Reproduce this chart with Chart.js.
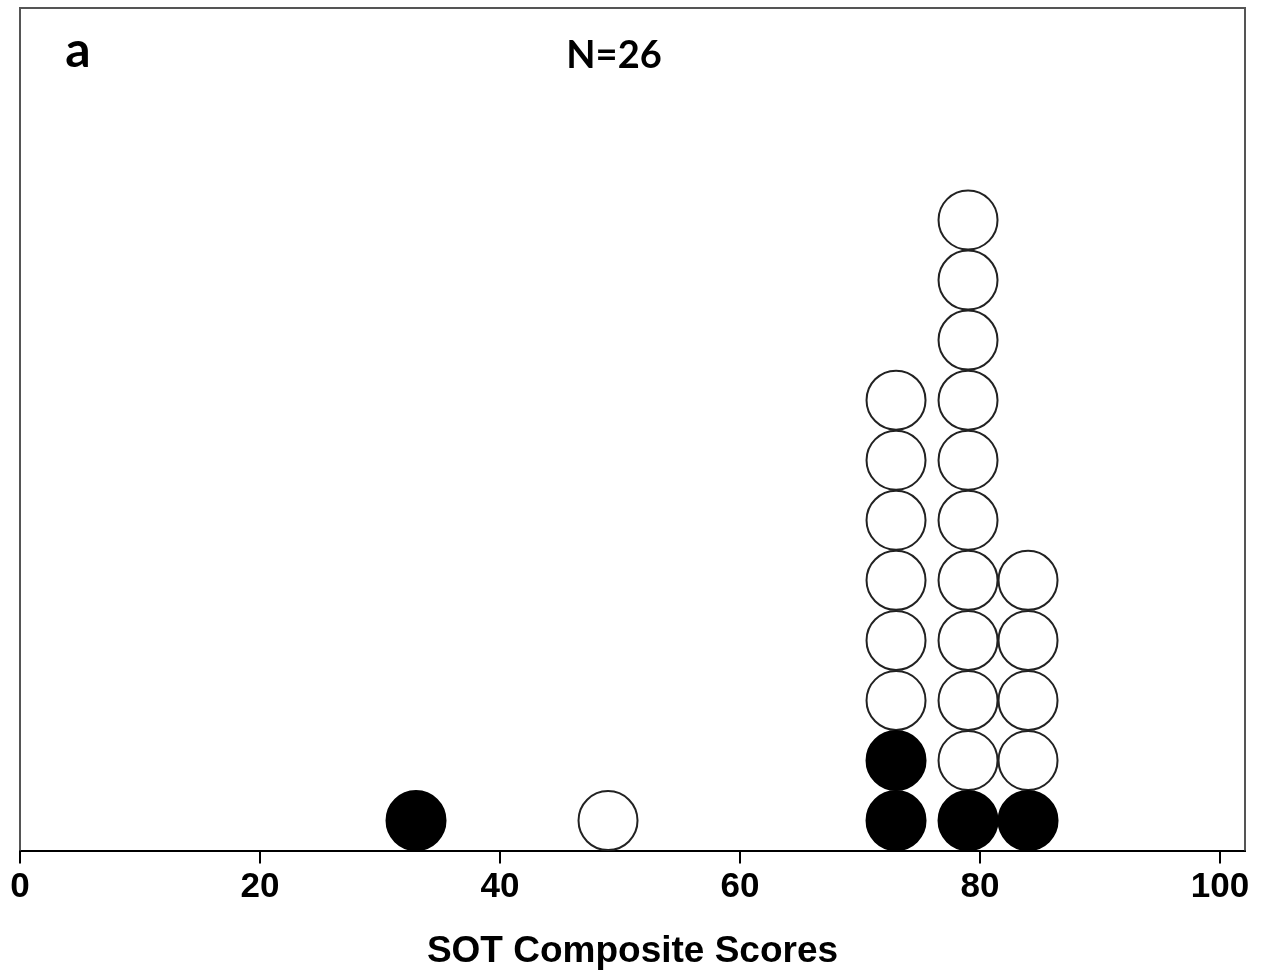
<!DOCTYPE html>
<html>
<head>
<meta charset="utf-8">
<script src="https://cdn.jsdelivr.net/npm/chart.js@4"></script>
<style>
  html, body { margin: 0; padding: 0; background: #fff; }
  #wrap { width: 1274px; height: 980px; }
</style>
</head>
<body>
<div id="wrap"><canvas id="canvas" width="1274" height="980"></canvas></div>
<script>
// SOT composite score of each subject, stacked as dots (level = position in stack)
const filledScores = [33, 73, 73, 79, 84];
const filledLevels = [1, 1, 2, 1, 1];
const openScores = [49, 73, 73, 73, 73, 73, 73, 79, 79, 79, 79, 79, 79, 79, 79, 79, 79, 84, 84, 84, 84];
const openLevels = [1, 3, 4, 5, 6, 7, 8, 2, 3, 4, 5, 6, 7, 8, 9, 10, 11, 2, 3, 4, 5];
const xTicks = [0, 20, 40, 60, 80, 100];
const panelLabel = "a";
const countLabel = "N=26";
const xTitle = "SOT Composite Scores";

function toPoints(xs, ys) {
  return xs.map((x, i) => ({ x: x, y: ys[i] }));
}

const frame = {
  id: "frame",
  afterDraw(chart) {
    const { ctx, chartArea: a, scales } = chart;
    ctx.save();
    ctx.strokeStyle = "#555";
    ctx.lineWidth = 2;
    ctx.beginPath();
    ctx.moveTo(a.left, a.bottom);
    ctx.lineTo(a.left, a.top);
    ctx.lineTo(a.right, a.top);
    ctx.lineTo(a.right, a.bottom);
    ctx.stroke();
    ctx.fillStyle = "#000";
    ctx.textAlign = "center";
    ctx.textBaseline = "alphabetic";
    ctx.font = "bold 50px Lato";
    ctx.fillText(panelLabel, a.left + 58, a.top + 59);
    ctx.font = "bold 38px Lato";
    ctx.fillText(countLabel, scales.x.getPixelForValue(49.5), a.top + 60);
    ctx.restore();
  }
};

const ctx = document.getElementById("canvas").getContext("2d");
const myChart = new Chart(ctx, {
  type: "scatter",
  data: {
    datasets: [
      {
        data: toPoints(filledScores, filledLevels),
        backgroundColor: "#000",
        borderColor: "#000",
        borderWidth: 2,
        pointRadius: 29.5,
        pointHoverRadius: 29.5,
        clip: false,
      },
      {
        data: toPoints(openScores, openLevels),
        backgroundColor: "#fff",
        borderColor: "#222",
        borderWidth: 2,
        pointRadius: 29.5,
        pointHoverRadius: 29.5,
        clip: false,
      },
    ],
  },
  options: {
    responsive: false,
    animation: false,
    layout: { autoPadding: false, padding: { left: 20, right: 29, top: 8, bottom: 6 } },
    plugins: { legend: { display: false }, tooltip: { enabled: false } },
    scales: {
      x: {
        type: "linear",
        min: 0,
        max: 102.08,
        afterBuildTicks(scale) {
          scale.ticks = xTicks.map((v) => ({ value: v }));
        },
        ticks: {
          color: "#000",
          font: { family: "Liberation Sans", size: 35, weight: "bold" },
          padding: 3,
          maxRotation: 0,
          includeBounds: false,
        },
        grid: {
          drawOnChartArea: false,
          drawTicks: true,
          tickLength: 13,
          color: "#000",
          lineWidth: 2,
        },
        border: { display: true, color: "#000", width: 2 },
        title: {
          display: true,
          text: xTitle,
          color: "#000",
          font: { family: "Liberation Sans", size: 37, weight: "bold" },
          padding: { top: 18, bottom: 0 },
        },
      },
      y: {
        display: false,
        min: 0.5,
        max: 14.53,
      },
    },
  },
  plugins: [frame],
});
</script>
</body>
</html>
